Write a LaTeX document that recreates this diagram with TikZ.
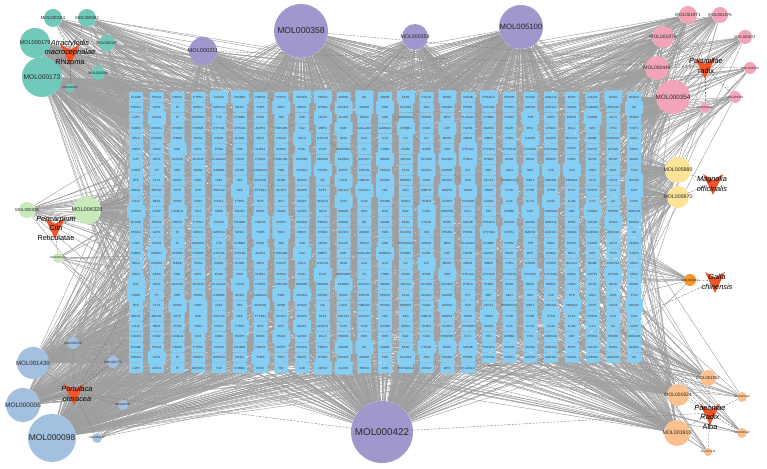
\documentclass[tikz,border=0pt]{standalone}
\usepackage{fontspec}
\setmainfont{Liberation Sans}
\usetikzlibrary{backgrounds}
\definecolor{genec}{RGB}{135,206,245}
\definecolor{tealc}{RGB}{112,201,186}
\definecolor{purpc}{RGB}{160,152,204}
\definecolor{pinkc}{RGB}{243,164,184}
\definecolor{yelc}{RGB}{253,227,150}
\definecolor{orac}{RGB}{246,150,40}
\definecolor{peac}{RGB}{250,192,142}
\definecolor{grnc}{RGB}{200,234,186}
\definecolor{stlc}{RGB}{163,192,224}
\definecolor{herbc}{RGB}{240,84,40}
\newcommand{\fsz}[1]{\fontsize{#1}{#1}\selectfont}
\def\genelist{ELANE,PTGS1,NR3C2,PTPN1,CCNA2,TXNRD1,NR1H4,HPRT1,PIK3CG,PDE3A,ADRB1,AR,MAOB,ESR1,PTGS2,NOS2,GSK3B,PRKACA,CHRM1,SCN5A,ADRA1A,DPP4,CALM1,RXRA,NCOA2,
PRKCA,ACP1,F2,NR3C1,MAPK14,NR1I2,THRB,TOP1,BIRC5,HTR2A,KCNH2,ADRB2,PGR,SLC6A4,JUN,PPARG,PRSS1,CYP3A4,NTRK1,MAPK8,AKR1C1,HDAC1,GABRA1,ADRA2A,IL6,
LAP3,LARS1,F7,ADORA1,F10,CHRM3,ESR2,TNF,IL1B,NR1I3,ALOX5,TOP2A,AHR,HSP90AA1,PDE4D,MPO,PLA2G4A,CHRM2,HSPA5,TYR,CDK2,PARP1,CASP3,AKT1,VEGFA,
FABP4,HMOX1,CHRM4,CHRM5,CYP1A1,CYP1B1,AGTR1,HSD11B1,CA2,MMP2,KDR,NAALAD2,GABRA3,OPRM1,CNR1,LEP,TGFB1,MAPK3,EGFR,MYC,CCND1,BCL2,BAX,TP53,STAT3,
RELA,NFKBIA,IKBKB,HIF1A,ICAM1,VCAM1,SELE,CXCL8,CCL2,CXCL10,IFNG,IL1A,IL10,IL2,IL4,MMP1,MMP3,MMP9,PTEN,CASP8,CASP9,BCL2L1,MDM2,CDKN1A,CDK1,
CDK4,CDK6,RB1,E2F1,PCNA,ATM,CHEK1,CHEK2,PLAU,PLAT,SERPINE1,F3,THBD,RARA,RXRB,VDR,CYP1A2,CYP2C9,CYP2C19,CYP2D6,CYP19A1,NQO1,GSTP1,GSTM1,SOD1,
CAT,GPX1,ALOX12,ALOX15,PLA2G2A,LTA4H,PTGES,HSD17B1,HSD3B1,SRD5A1,AKR1B1,AKR1C3,ABCB1,ABCG2,SLC6A2,SLC6A3,HTR1A,HTR3A,DRD1,DRD2,OPRD1,CNR2,ACHE,BCHE,MAOA,
COMT,TH,DBH,GRIN1,GRIN2B,GRIA2,CSNK2A1,PIM1,PIK3CA,PIK3R1,MTOR,PRKCB,PRKCD,PLK1,AURKA,AURKB,KIT,MET,ABL1,SRC,LCK,SYK,JAK2,JAK1,TYK2,
BTK,FLT3,IGF1R,INSR,IGF2,INS,ADIPOQ,APOB,APOA1,LPL,LDLR,HMGCR,PCSK9,SREBF1,FASN,ACACA,SCD,CPT1A,PPARGC1A,SIRT1,PRKAA1,PRKAA2,UCP1,UCP2,NR1H3,
ABCA1,ABCG1,CETP,LIPE,PNPLA2,GCK,PTPN11,DUSP1,DUSP6,SPP1,COL1A1,COL3A1,FN1,ELN,MMP12,MMP13,TIMP1,TIMP2,CTSK,CTSB,CTSD,CTSL,PRTN3,CA1,CA9,
CA12,NEU1,HPSE,HAS2,HYAL1,TYRP1,MITF,DCT,KEAP1,NFE2L2,TLR4,TLR2,MYD88,IRAK4,TRAF6,NLRP3,PYCARD,CASP1,IL18,IL17A,IL23A,IL12B,IL13,IL5,CCR5,
CXCR4,CCR2,CD40LG,CD4,CD8A,FOXP3,RORC,TBX21,GATA3,BCL6,PRDM1,IRF4,IRF3,EGF,FGF2,PDGFRB,FLT1,TEK,ERBB2,FOS,CDKN2A,ATR,PPARA,PPARD,ADRA1B}
\tikzset{
  mol/.style={circle, inner sep=0pt, minimum size=2*#1*0.02cm},
  gene/.style={rectangle, rounded corners=0.4pt, fill=genec, inner sep=0pt},
  genetext/.style={font=\fsz{1.7}, text=black!80, inner sep=0pt},
  link/.style={draw=black!38, line width=0.25pt},
  herblink/.style={draw=black!50, line width=0.25pt, dash pattern=on 1.2pt off 0.8pt},
  herbtext/.style={font=\fontsize{4.2}{5.4}\selectfont, align=center, inner sep=0pt, text=black},
  herb/.pic={\fill[herbc] (-10,-9) -- (0,-3) -- (10,-9) -- (0,12) -- cycle;}
}
\begin{document}
\begin{tikzpicture}[x=0.02cm, y=-0.02cm]
\useasboundingbox (0,0) rectangle (767,469);
\pgfmathsetseed{4}
\foreach \g [count=\n] in \genelist {\xdef\ng{\n}}
\foreach \p in {0,1,2} {
  \pgfmathtruncatemacro\st{\p*\ng}
  \foreach \g [count=\i from \st] in \genelist {
    \ifnum\i<667
      \pgfmathtruncatemacro\c{mod(\i,25)+1}
      \pgfmathtruncatemacro\r{\i/25+1}
      \pgfmathrandominteger{\bg}{1}{12}
      \ifnum\bg>10 \def\w{18}\def\h{13}\else\def\w{14}\def\h{10}\fi
      \node[gene, minimum width=\w*0.02cm, minimum height=\h*0.02cm,
        label={[genetext]center:\g}] (g-\c-\r) at ({136+(\c-1)*20.75},{97+(\r-1)*10.43}) {};
    \fi
  }
}
\node[font=\fsz{4}, inner sep=0pt] (more) at (494,366) {......};

\foreach \n/\x/\y/\s/\cl/\f/\d in {
  000184/53/18/9/tealc/2.5/35, 000092/87/18/9/tealc/2.4/35, 000179/35/43/15/tealc/3.2/110,
  000186/107/43/8/tealc/2.2/30, 000173/42/77/20/tealc/3.8/190, 000094/98/73/7/tealc/2/25,
  000085/70/88/4.5/tealc/1.6/12,
  000211/203/51/14/purpc/3.2/110, 000358/301/31/27/purpc/4.9/320, 000359/415/37/13/purpc/3/100,
  005100/521/27/22/purpc/4.4/290, 000422/382/432/31/purpc/5.6/400,
  001971/688/15/9/pinkc/2.6/50, 001978/720/15/8/pinkc/2.4/38, 001979/663/37/11/pinkc/2.8/70,
  001973/745/37/7/pinkc/2.2/25, 000449/657/68/12/pinkc/2.8/75, 001990/750/68/6/pinkc/1.8/15,
  000354/673/97/17/pinkc/3.6/140, 001991/735/97/6/pinkc/1.8/15, 001992/705/108/5/pinkc/1.6/12,
  005980/678/170/13/yelc/3/100, 005970/678/197/11/yelc/3/75,
  000513/690/280/6/orac/1.8/18,
  001932/708/378/8/peac/2.4/30, 001924/678/395/11/peac/2.8/70, 001918/742/397/5/peac/1.6/10,
  001910/677/433/13/peac/3/110, 000492/742/433/5/peac/1.6/10, 001928/708/452/4/peac/1.5/7,
  005828/27/210/8/grnc/2.4/30, 004328/87/210/14/grnc/3.2/110, 005815/58/258/5/grnc/1.6/12,
  002529/73/343/6/stlc/1.8/18, 001439/33/363/16/stlc/3.5/140, 002773/113/362/6/stlc/1.8/18,
  000006/23/405/17/stlc/3.7/150, 005617/123/405/5/stlc/1.6/15, 000098/52/438/24/stlc/4.8/270,
  005842/97/438/5/stlc/1.6/12} {
  \node[mol=\s, fill=\cl, label={[font=\fsz{\f}, text=black!85, inner sep=0pt]center:MOL\n}] (m\n) at (\x,\y) {};
  \begin{pgfonlayer}{background}
    \foreach \e in {1,...,\d} {
      \pgfmathrandominteger{\cc}{1}{25}
      \pgfmathrandominteger{\rr}{1}{26}
      \draw[link] (m\n) -- (g-\cc-\rr);
    }
  \end{pgfonlayer}
}

\foreach \h/\x/\y in {atr/70/53, pul/705/67, mag/713/183, gal/715/281, pae/710/413, cit/55/227, por/74/393} {
  \coordinate (\h) at (\x,\y);
  \pic at (\h) {herb};
}

\node[herbtext] (atr-t) at (70,52) {\textit{Atractylodis}\\\textit{macrocephalae}\\Rhizoma};
\node[herbtext] (pul-t) at (706,66) {\textit{Pulsatillae}\\radix};
\node[herbtext] (mag-t) at (712,184) {\textit{Magnolia}\\\textit{officinalis}};
\node[herbtext] (gal-t) at (717,282) {\textit{Galla}\\\textit{chinensis}};
\node[herbtext] (pae-t) at (710,417) {\textit{Paeoniae}\\\textit{Radix}\\Alba};
\node[herbtext] (cit-t) at (56,228) {\textit{Pericarpium}\\\textit{Citri}\\Reticulatae};
\node[herbtext] (por-t) at (77,394) {\textit{Portulaca}\\\textit{oleracea}};

\begin{pgfonlayer}{background}
  \foreach \h/\m in {atr/000184, atr/000092, atr/000179, atr/000186, atr/000173, atr/000094, atr/000085,
    pul/001971, pul/001978, pul/001979, pul/001973, pul/000449, pul/001990, pul/000354, pul/001991, pul/001992,
    pul/000358, pul/000211, mag/005980, mag/005970, gal/000513, gal/000422,
    pae/001932, pae/001924, pae/001918, pae/001910, pae/000492, pae/001928, pae/000211, pae/000358, pae/000359, pae/000422,
    cit/005828, cit/004328, cit/005815, cit/005100,
    por/002529, por/001439, por/002773, por/000006, por/005617, por/000098, por/005842, por/000422, por/000358, por/000359, por/005100}
    \draw[herblink] (\h) -- (m\m);
\end{pgfonlayer}
\end{tikzpicture}
\end{document}
